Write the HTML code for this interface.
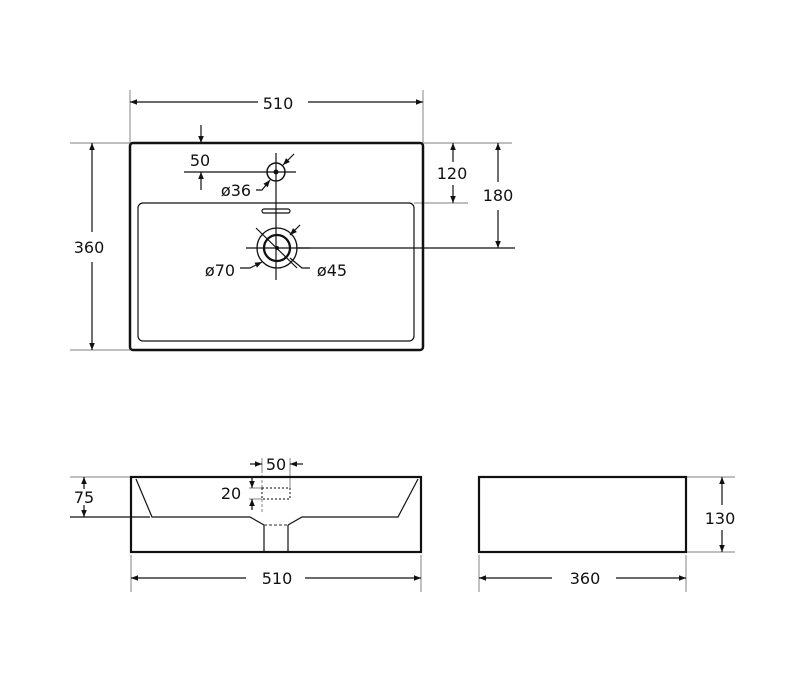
<!DOCTYPE html>
<html><head><style>
html,body{margin:0;padding:0;background:#fff;}
svg{display:block;}
text{font-family:"DejaVu Sans","Liberation Sans",sans-serif;font-size:16px;fill:#111;}
</style></head><body>
<svg width="800" height="691" viewBox="0 0 800 691" xmlns="http://www.w3.org/2000/svg">
<defs>
<marker id="a" viewBox="0 0 10 10" refX="10" refY="5" markerWidth="9" markerHeight="7" orient="auto-start-reverse" markerUnits="userSpaceOnUse"><path d="M0,1 L10,5 L0,9 z" fill="#111"/></marker>
</defs>
<rect width="800" height="691" fill="#fff"/>
<g stroke="#999" stroke-width="1.2" fill="none">
<line x1="130" y1="90" x2="130" y2="143"/><line x1="423" y1="90" x2="423" y2="143"/>
<line x1="70" y1="143" x2="130" y2="143"/><line x1="70" y1="350" x2="130" y2="350"/>
<line x1="423" y1="143" x2="512" y2="143"/><line x1="414" y1="203" x2="468" y2="203"/>
</g>
<g stroke="#111" stroke-width="1.2" fill="none">
<line x1="130" y1="102" x2="258" y2="102" marker-start="url(#a)"/><line x1="308" y1="102" x2="423" y2="102" marker-end="url(#a)"/>
<line x1="92" y1="143" x2="92" y2="232" marker-start="url(#a)"/><line x1="92" y1="262" x2="92" y2="350" marker-end="url(#a)"/>
<line x1="453" y1="143" x2="453" y2="162" marker-start="url(#a)"/><line x1="453" y1="185" x2="453" y2="203" marker-end="url(#a)"/>
<line x1="498" y1="143" x2="498" y2="182" marker-start="url(#a)"/><line x1="498" y1="210" x2="498" y2="248" marker-end="url(#a)"/>
<line x1="296" y1="248" x2="515" y2="248"/>
<line x1="201" y1="125" x2="201" y2="143" marker-end="url(#a)"/>
<line x1="201" y1="190" x2="201" y2="172" marker-end="url(#a)"/>
<line x1="184" y1="172" x2="296" y2="172"/>
<line x1="276" y1="153" x2="276" y2="280"/>
<line x1="246" y1="248" x2="310" y2="248"/>
<line x1="294" y1="154" x2="283" y2="165" marker-end="url(#a)"/>
<path d="M256,190 L262,190 L270,180" marker-end="url(#a)"/>
<line x1="256" y1="228" x2="297" y2="268"/>
<line x1="300" y1="225" x2="290" y2="235" marker-end="url(#a)"/>
<path d="M240,268 L250,268 L262,262" marker-end="url(#a)"/>
<path d="M310,268 L302,268 L290,258"/>
</g>
<rect x="130" y="143" width="293" height="207" rx="3" fill="none" stroke="#111" stroke-width="2.5"/>
<rect x="138" y="203" width="276" height="138" rx="5" fill="none" stroke="#111" stroke-width="1.2"/>
<circle cx="276" cy="172" r="9" fill="none" stroke="#111" stroke-width="1.5"/>
<circle cx="276" cy="172" r="2.5" fill="#111"/>
<rect x="262" y="209" width="28" height="4" rx="2" fill="none" stroke="#111" stroke-width="1.2"/>
<circle cx="277" cy="248" r="20" fill="none" stroke="#111" stroke-width="1.3"/>
<circle cx="277" cy="248" r="13" fill="none" stroke="#111" stroke-width="2.3"/>
<circle cx="277" cy="248" r="2" fill="#111"/>
<text x="278" y="109" text-anchor="middle">510</text>
<text x="89" y="253" text-anchor="middle">360</text>
<text x="200" y="166" text-anchor="middle">50</text>
<text x="452" y="179" text-anchor="middle">120</text>
<text x="498" y="201" text-anchor="middle">180</text>
<text x="236" y="196" text-anchor="middle">ø36</text>
<text x="220" y="276" text-anchor="middle">ø70</text>
<text x="332" y="276" text-anchor="middle">ø45</text>
<g stroke="#999" stroke-width="1.2" fill="none">
<line x1="70" y1="477" x2="131" y2="477"/><line x1="131" y1="555" x2="131" y2="592"/><line x1="421" y1="555" x2="421" y2="592"/>
<line x1="262" y1="470" x2="262" y2="488" stroke-dasharray="3,2"/><line x1="262" y1="499" x2="262" y2="512" stroke-dasharray="3,2"/>
<line x1="249" y1="488" x2="262" y2="488"/><line x1="249" y1="499" x2="262" y2="499"/>
<line x1="290" y1="458" x2="290" y2="488"/><line x1="262" y1="458" x2="262" y2="470"/>
</g>
<g stroke="#111" stroke-width="1.2" fill="none">
<line x1="70" y1="517" x2="150" y2="517"/>
<line x1="84" y1="489" x2="84" y2="477" marker-end="url(#a)"/><line x1="84" y1="505" x2="84" y2="517" marker-end="url(#a)"/>
<line x1="250" y1="464" x2="262" y2="464" marker-end="url(#a)"/><line x1="303" y1="464" x2="290" y2="464" marker-end="url(#a)"/>
<line x1="252" y1="478" x2="252" y2="488" marker-end="url(#a)"/><line x1="252" y1="510" x2="252" y2="499" marker-end="url(#a)"/>
<line x1="131" y1="578" x2="246" y2="578" marker-start="url(#a)"/><line x1="305" y1="578" x2="421" y2="578" marker-end="url(#a)"/>
<path d="M136,479 L152,517 L250,517 L264,525 M288,525 L302,517 L398,517 L418,479"/>
<line x1="264" y1="525" x2="264" y2="552"/><line x1="288" y1="525" x2="288" y2="552"/>
</g>
<line x1="264" y1="525" x2="288" y2="525" stroke="#555" stroke-width="1.2" stroke-dasharray="3,2"/>
<rect x="262" y="488" width="28" height="11" fill="none" stroke="#333" stroke-width="1.2" stroke-dasharray="2,2"/>
<rect x="131" y="477" width="290" height="75" fill="none" stroke="#111" stroke-width="2.2"/>
<text x="276" y="470" text-anchor="middle">50</text>
<text x="231" y="499" text-anchor="middle">20</text>
<text x="84" y="503" text-anchor="middle">75</text>
<text x="277" y="584" text-anchor="middle">510</text>
<g stroke="#999" stroke-width="1.2" fill="none">
<line x1="686" y1="477" x2="735" y2="477"/><line x1="686" y1="552" x2="735" y2="552"/>
<line x1="479" y1="555" x2="479" y2="592"/><line x1="686" y1="555" x2="686" y2="592"/>
</g>
<g stroke="#111" stroke-width="1.2" fill="none">
<line x1="722" y1="505" x2="722" y2="477" marker-end="url(#a)"/><line x1="722" y1="530" x2="722" y2="552" marker-end="url(#a)"/>
<line x1="479" y1="578" x2="552" y2="578" marker-start="url(#a)"/><line x1="616" y1="578" x2="686" y2="578" marker-end="url(#a)"/>
</g>
<rect x="479" y="477" width="207" height="75" fill="none" stroke="#111" stroke-width="2.2"/>
<text x="720" y="524" text-anchor="middle">130</text>
<text x="585" y="584" text-anchor="middle">360</text>
</svg>
</body></html>
